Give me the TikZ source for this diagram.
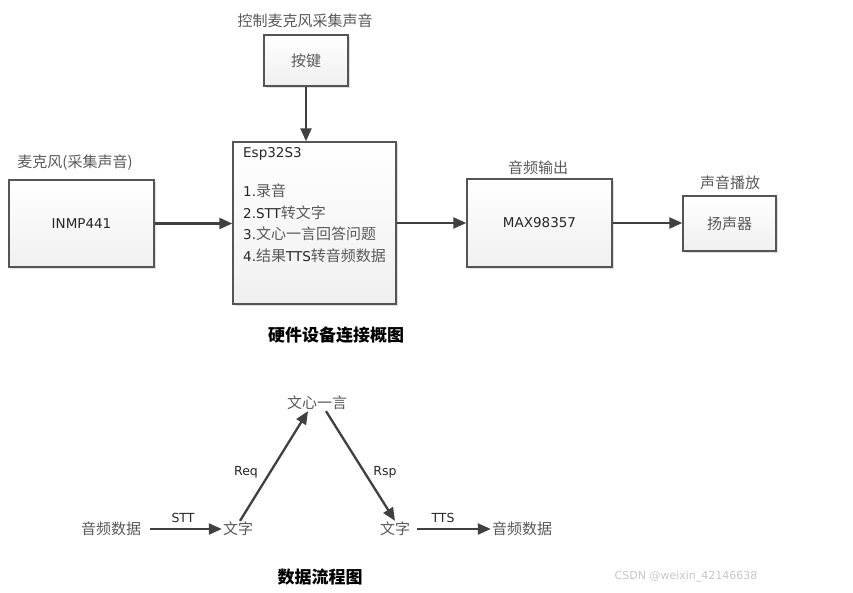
\documentclass[tikz,border=0pt]{standalone}
\usepackage{fontspec}
\setmainfont{DejaVu Sans}
\newfontfamily\cjk{Noto Sans CJK SC}
\usetikzlibrary{arrows.meta,shadows,calc}
\definecolor{txtgray}{HTML}{595959}
\definecolor{latgray}{HTML}{262626}
\definecolor{edgegray}{HTML}{555555}
\definecolor{arrgray}{HTML}{404040}
\newcommand\zh[1]{{\fontsize{15}{17}\selectfont\cjk\color{txtgray}#1}}
\tikzset{
  box/.style={draw=edgegray, line width=1.4pt, top color=white, bottom color=gray!12,
    drop shadow={shadow xshift=2pt, shadow yshift=-2pt, opacity=0.25, fill=gray},
    inner sep=0pt, font=\fontsize{13.5}{15}\selectfont, text=latgray},
  lab/.style={inner sep=1pt, text=txtgray, font=\fontsize{15}{17}\selectfont\cjk},
  elab/.style={inner sep=0pt, anchor=west, text=latgray, font=\fontsize{13.5}{15}\selectfont},
  small/.style={inner sep=0pt, text=latgray, font=\fontsize{12.5}{14}\selectfont},
  title/.style={inner sep=0pt, text=black, font=\fontsize{17}{19}\selectfont\cjk\bfseries},
  arr/.style={draw=arrgray, line width=2.3pt, -{Triangle[length=13pt,width=11pt]}},
}
\begin{document}
\begin{tikzpicture}[x=1pt,y=-1pt]
\useasboundingbox (0,0) rectangle (853,593);
% hardware diagram
\node[lab] (keylab) at (305,21) {控制麦克风采集声音};
\node[box, minimum width=84pt, minimum height=51pt] (key) at (306,60.5) {\zh{按键}};
\node[box, minimum width=163pt, minimum height=162pt] (esp) at (314.5,223) {};
\node[elab] (e0) at (243,154) {Esp32S3};
\node[elab] (e1) at (243,191) {1.\zh{录音}};
\node[elab] (e2) at (243,212.5) {2.STT\zh{转文字}};
\node[elab] (e3) at (243,234) {3.\zh{文心一言回答问题}};
\node[elab] (e4) at (243,256) {4.\zh{结果}TTS\zh{转音频数据}};
\node[lab] (miclab) at (75,163) {麦克风(采集声音)};
\node[box, minimum width=145pt, minimum height=87pt] (inmp) at (81.5,223.5) {INMP441};
\node[lab] (outlab) at (538,168) {音频输出};
\node[box, minimum width=145pt, minimum height=88pt] (max) at (539.5,223) {MAX98357};
\node[lab] (spklab) at (730,183) {声音播放};
\node[box, minimum width=93pt, minimum height=55pt] (spk) at (729.5,223.5) {\zh{扬声器}};
\node[title] (t1) at (336,335) {硬件设备连接概图};
\draw[arr] (key.south) -- (key.south |- esp.north);
\draw[arr] (inmp.east) -- (inmp.east -| esp.west);
\draw[arr] (esp.east |- max.west) -- (max.west);
\draw[arr] (max.east) -- (max.east -| spk.west);
% data flow
\node[lab] (ad1) at (111,529) {音频数据};
\node[lab] (w1) at (238,529) {文字};
\node[lab] (wx) at (317,403) {文心一言};
\node[lab] (w2) at (395,529) {文字};
\node[lab] (ad2) at (522,529) {音频数据};
\draw[arr] ([xshift=8pt]ad1.east) -- (w1.west);
\draw[arr] ([xshift=2pt]w1.north) -- ([xshift=-9pt]wx.south);
\draw[arr] ([xshift=9pt]wx.south) -- (w2.north);
\draw[arr] ([xshift=6pt]w2.east) -- (ad2.west);
\node[small] (stt) at (183,518) {STT};
\node[small] (req) at (246,472) {Req};
\node[small] (rsp) at (385,472) {Rsp};
\node[small] (tts) at (443,518) {TTS};
\node[title] (t2) at (320,577) {数据流程图};
\node[inner sep=0pt, text=gray!45, font=\fontsize{11}{13}\selectfont] (wm) at (686,577) {CSDN @weixin\_42146638};
\end{tikzpicture}
\end{document}
